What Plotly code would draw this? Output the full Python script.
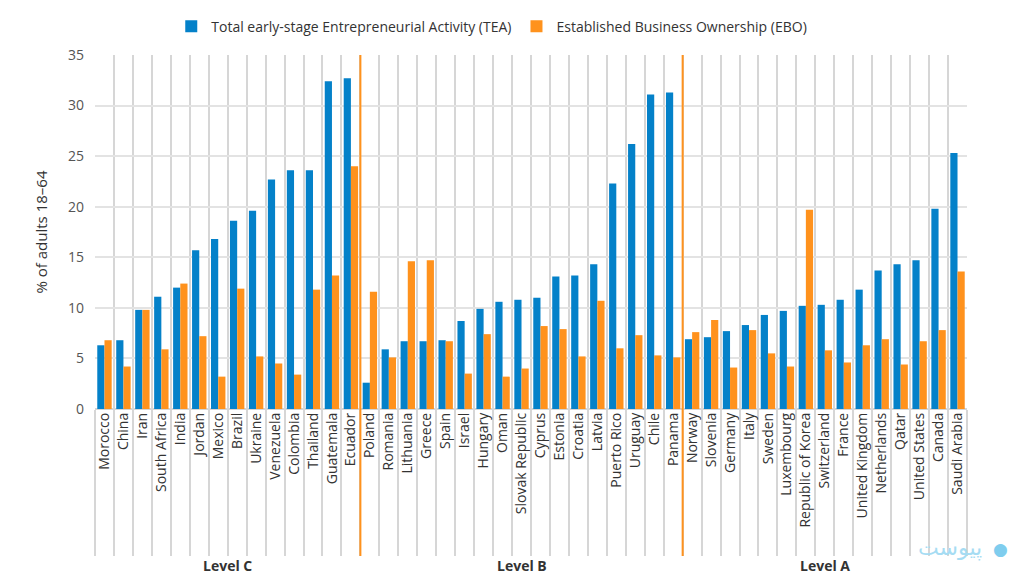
import plotly.graph_objects as go

level_c = ["Morocco", "China", "Iran", "South Africa", "India", "Jordan", "Mexico", "Brazil",
           "Ukraine", "Venezuela", "Colombia", "Thailand", "Guatemala", "Ecuador"]
level_b = ["Poland", "Romania", "Lithuania", "Greece", "Spain", "Israel", "Hungary", "Oman",
           "Slovak Republic", "Cyprus", "Estonia", "Croatia", "Latvia", "Puerto Rico",
           "Uruguay", "Chile", "Panama"]
level_a = ["Norway", "Slovenia", "Germany", "Italy", "Sweden", "Luxembourg", "Republic of Korea",
           "Switzerland", "France", "United Kingdom", "Netherlands", "Qatar", "United States",
           "Canada", "Saudi Arabia"]

tea_c = [6.3, 6.8, 9.8, 11.1, 12.0, 15.7, 16.8, 18.6, 19.6, 22.7, 23.6, 23.6, 32.4, 32.7]
ebo_c = [6.8, 4.2, 9.8, 5.9, 12.4, 7.2, 3.2, 11.9, 5.2, 4.5, 3.4, 11.8, 13.2, 24.0]
tea_b = [2.6, 5.9, 6.7, 6.7, 6.8, 8.7, 9.9, 10.6, 10.8, 11.0, 13.1, 13.2, 14.3, 22.3, 26.2, 31.1, 31.3]
ebo_b = [11.6, 5.1, 14.6, 14.7, 6.7, 3.5, 7.4, 3.2, 4.0, 8.2, 7.9, 5.2, 10.7, 6.0, 7.3, 5.3, 5.1]
tea_a = [6.9, 7.1, 7.7, 8.3, 9.3, 9.7, 10.2, 10.3, 10.8, 11.8, 13.7, 14.3, 14.7, 19.8, 25.3]
ebo_a = [7.6, 8.8, 4.1, 7.8, 5.5, 4.2, 19.7, 5.8, 4.6, 6.3, 6.9, 4.4, 6.7, 7.8, 13.6]

level_names = ["Level C", "Level B", "Level A"]
y_ticks = [0, 5, 10, 15, 20, 25, 30, 35]

countries = level_c + level_b + level_a
tea = tea_c + tea_b + tea_a
ebo = ebo_c + ebo_b + ebo_a

BLUE = "#0481C9"
ORANGE = "#FF921D"
GRID = "#d6d6d6"
FONT = "Open Sans"

fig = go.Figure()
fig.add_trace(go.Bar(x=countries, y=tea, name="Total early-stage Entrepreneurial Activity (TEA)",
                     marker=dict(color=BLUE, line=dict(width=0))))
fig.add_trace(go.Bar(x=countries, y=ebo, name="Established Business Ownership (EBO)",
                     marker=dict(color=ORANGE, line=dict(width=0))))

# group separators and labels
groups = [level_c, level_b, level_a]
start = 0
for i, (g, name) in enumerate(zip(groups, level_names)):
    end = start + len(g)
    center = (start + end - 1) / 2
    fig.add_annotation(x=center, xref="x", y=-0.443, yref="paper", text=f"<b>{name}</b>",
                       showarrow=False, font=dict(family=FONT, size=14, color="#333333"),
                       yanchor="middle")
    if i < len(groups) - 1:
        fig.add_shape(type="line", xref="x", yref="paper", x0=end - 0.5, x1=end - 0.5,
                      y0=-0.415, y1=1, line=dict(color=ORANGE, width=2), layer="above")
    start = end

# watermark
fig.add_annotation(xref="paper", yref="paper", x=1.02, y=-0.393, text="پیوست",
                   showarrow=False, font=dict(family="DejaVu Sans", size=22, color="#a6dcf3"),
                   xanchor="right", yanchor="middle")
fig.add_annotation(xref="paper", yref="paper", x=1.038, y=-0.395, text="●",
                   showarrow=False, font=dict(family="DejaVu Sans", size=17, color="#7fcdee"),
                   xanchor="center", yanchor="middle")

fig.update_layout(
    width=1024, height=578,
    margin=dict(l=95, r=57, t=55, b=169, autoexpand=False),
    plot_bgcolor="white", paper_bgcolor="white",
    barmode="group", bargap=0.24, bargroupgap=0.0,
    font=dict(family=FONT, color="#333333"),
    legend=dict(orientation="h", x=0.455, xanchor="center", y=1.08, yanchor="middle",
                font=dict(family=FONT, size=14, color="#333333"),
                traceorder="normal"),
    xaxis=dict(type="category", tickson="boundaries", showgrid=True, gridcolor=GRID, gridwidth=2,
               ticks="outside", ticklen=146, tickcolor=GRID, tickwidth=2, tickangle=-90,
               tickfont=dict(family=FONT, size=14, color="#333333"), showline=False,
               automargin=False, range=[-0.5, len(countries) - 0.5]),
    yaxis=dict(range=[0, 35], tickvals=y_ticks, showgrid=True, gridcolor="#e3e3e3", gridwidth=1.5,
               tickfont=dict(family=FONT, size=14, color="#555555"), zeroline=True,
               zerolinecolor=GRID, zerolinewidth=1.5, automargin=False, ticklabelstandoff=10,
               title=dict(text="% of adults 18–64", font=dict(family=FONT, size=15, color="#333333"),
                          standoff=16)),
)

fig.write_html("out.html", config={"displayModeBar": False},
               post_script="document.body.style.margin='0';document.body.style.overflow='hidden';")
